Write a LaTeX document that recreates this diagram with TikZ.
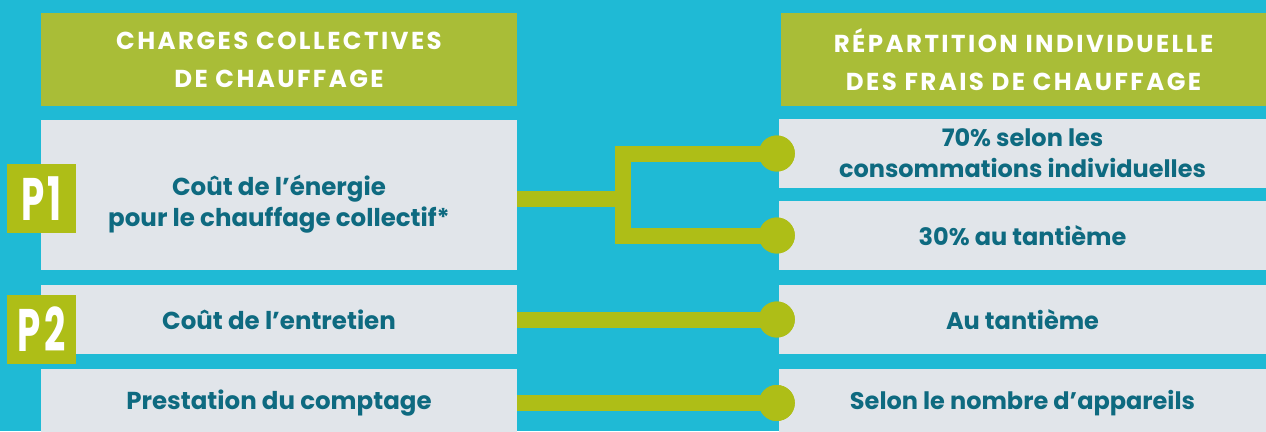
\documentclass[tikz,border=0pt]{standalone}
\usepackage{fontspec}
\setmainfont{Poppins}
\newfontfamily\headfont{Poppins}[LetterSpace=10]
\usetikzlibrary{positioning}

\definecolor{bgcyan}{HTML}{1FBAD5}
\definecolor{headgreen}{HTML}{A9BD37}
\definecolor{boxgray}{HTML}{E1E5EA}
\definecolor{linkgreen}{HTML}{AEBE17}
\definecolor{textteal}{HTML}{0E6A80}

\begin{document}
\begin{tikzpicture}[x=1pt,y=-1pt,
  head/.style={rectangle,fill=headgreen,text=white,align=center,inner sep=0pt,minimum height=93pt,font={\headfont\bfseries\fontsize{24.5}{38}\selectfont}},
  cost/.style={rectangle,fill=boxgray,text=textteal,align=center,inner sep=0pt,minimum width=476pt,font={\bfseries\fontsize{24.5}{31}\selectfont}},
  share/.style={rectangle,fill=boxgray,text=textteal,align=center,inner sep=0pt,minimum width=487pt,font={\bfseries\fontsize{24}{31}\selectfont}},
  badge/.style={rectangle,fill=linkgreen,text=white,inner sep=0pt,minimum size=69pt,font={\bfseries\fontsize{60}{60}\selectfont}},
  dot/.style={circle,fill=linkgreen,inner sep=0pt,minimum size=36pt},
  link/.style={draw=linkgreen,line width=16pt,line join=miter}]

\fill[bgcyan] (0,0) rectangle (1266,431);
\useasboundingbox (0,0) rectangle (1266,431);

% headers
\node at (279,59.5) [head,minimum width=476pt] (hcharges) {CHARGES COLLECTIVES\\DE CHAUFFAGE};
\node at (1023.5,59.5) [head,minimum width=485pt] (hrepart) {RÉPARTITION INDIVIDUELLE\\DES FRAIS DE CHAUFFAGE};

% charges
\node at (279,195) [cost,minimum height=150pt,text height=70pt] (energie) {Coût de l’énergie\\pour le chauffage collectif*};
\node at (279,319.5) [cost,minimum height=69pt] (entretien) {Coût de l’entretien};
\node at (279,403) [cost,minimum height=68pt] (comptage) {Prestation du comptage};

% repartition
\node at (1022.5,153.5) [share,minimum height=69pt] (conso) {70\% selon les\\consommations individuelles};
\node at (1022.5,235.5) [share,minimum height=69pt] (tantieme) {30\% au tantième};
\node at (1022.5,319.5) [share,minimum height=69pt] (autantieme) {Au tantième};
\node at (1022.5,403) [share,minimum height=68pt] (appareils) {Selon le nombre d’appareils};

\node at ([xshift=-2pt]conso.west) [dot] (dotconso) {};
\node at ([xshift=-2pt]tantieme.west) [dot] (dottant) {};
\node at ([xshift=-2pt]autantieme.west) [dot] (dotau) {};
\node at ([xshift=-2pt]appareils.west) [dot] (dotapp) {};

\coordinate (split) at (623,199);

\draw[link] (energie.east |- split) -- (split);
\draw[link] (dotconso.center) -| (split) |- (dottant.center);
\draw[link] (entretien.east) -- (dotau.center);
\draw[link] (comptage.east) -- (dotapp.center);

\node at (dotconso) [dot] {};
\node at (dottant) [dot] {};
\node at (dotau) [dot] {};
\node at (dotapp) [dot] {};

% badges
\node at (41.5,198.5) [badge] (p1) {\scalebox{0.62}[1]{P\kern6pt1}};
\node at (41.5,329.5) [badge] (p2) {\scalebox{0.62}[1]{P\kern6pt2}};
\end{tikzpicture}
\end{document}
